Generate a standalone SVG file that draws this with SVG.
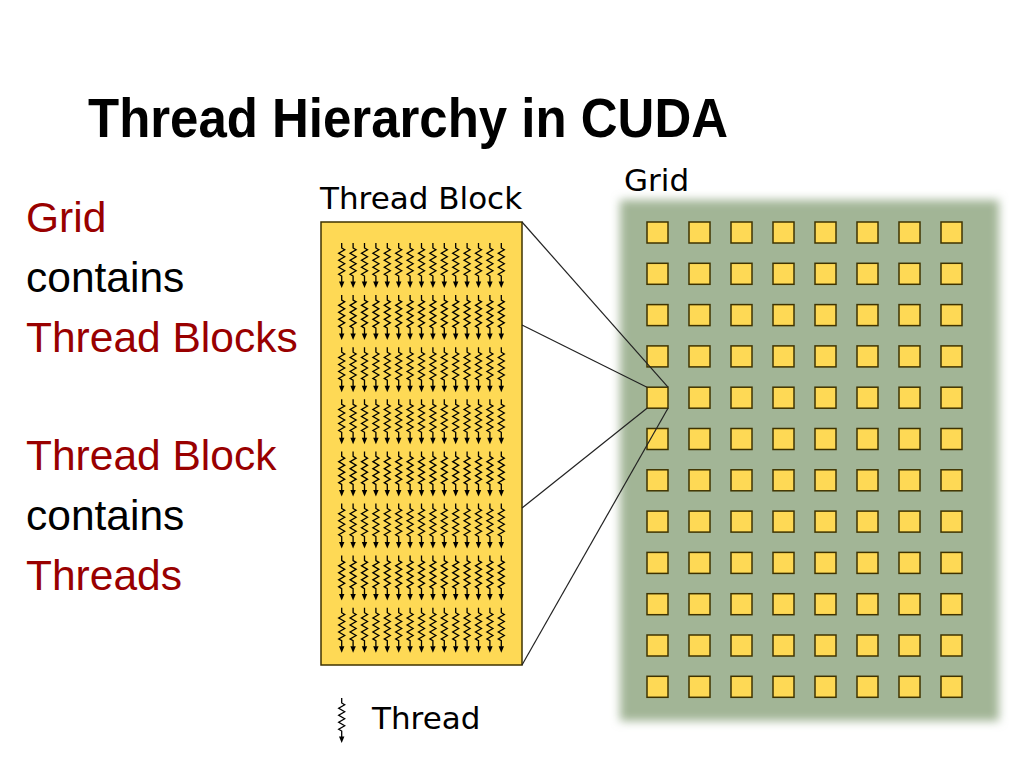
<svg xmlns="http://www.w3.org/2000/svg" xmlns:xlink="http://www.w3.org/1999/xlink" width="1024" height="768" viewBox="0 0 1024 768">
<style>
.title{font-family:"Liberation Sans",Arial,sans-serif;font-weight:bold;font-size:55px;fill:#000}
.side{font-family:"Liberation Sans",Arial,sans-serif;font-size:42.5px}
.red{fill:#990000}
.blk{fill:#000}
.lbl{font-family:"DejaVu Sans",sans-serif;font-size:31px;fill:#000}
.thr{fill:none;stroke:#000;stroke-width:1.3}
.cell{fill:#fed955;stroke:#3f3300;stroke-width:1.5}
.conn{stroke:#222;stroke-width:1.2;fill:none}
</style>
<defs>
<filter id="blur" x="-10%" y="-10%" width="120%" height="120%">
<feGaussianBlur stdDeviation="5"/>
</filter>
<g id="th">
<path class="thr" d="M0,0 V5 l3,1.75 l-6,3.5 l6,3.5 l-6,3.5 l6,3.5 l-6,3.5 l6,3.5 l-6,3.5 l3,1.75 V39"/>
<polygon points="0,45 -2.7,38.5 2.7,38.5" fill="#000"/>
</g>
<g id="throw">
<use xlink:href="#th" x="341.7"/><use xlink:href="#th" x="353.1"/><use xlink:href="#th" x="364.5"/>
<use xlink:href="#th" x="375.9"/><use xlink:href="#th" x="387.3"/><use xlink:href="#th" x="398.7"/>
<use xlink:href="#th" x="410.1"/><use xlink:href="#th" x="421.5"/><use xlink:href="#th" x="432.9"/>
<use xlink:href="#th" x="444.3"/><use xlink:href="#th" x="455.7"/><use xlink:href="#th" x="467.1"/>
<use xlink:href="#th" x="478.5"/><use xlink:href="#th" x="489.9"/><use xlink:href="#th" x="501.3"/>
</g>
<g id="gridrow">
<rect class="cell" x="647" width="21" height="21"/><rect class="cell" x="689" width="21" height="21"/>
<rect class="cell" x="731" width="21" height="21"/><rect class="cell" x="773" width="21" height="21"/>
<rect class="cell" x="815" width="21" height="21"/><rect class="cell" x="857" width="21" height="21"/>
<rect class="cell" x="899" width="21" height="21"/><rect class="cell" x="941" width="21" height="21"/>
</g>
</defs>
<rect width="1024" height="768" fill="#fff"/>
<text class="title" x="88" y="137" textLength="640" lengthAdjust="spacingAndGlyphs">Thread Hierarchy in CUDA</text>
<g id="side-text" class="side">
<text class="red" x="26" y="232">Grid</text>
<text class="blk" x="26" y="292">contains</text>
<text class="red" x="26" y="352">Thread Blocks</text>
<text class="red" x="26" y="470">Thread Block</text>
<text class="blk" x="26" y="530">contains</text>
<text class="red" x="26" y="590">Threads</text>
</g>
<g id="grid">
<rect x="620" y="200" width="379" height="521" fill="#a2b596" filter="url(#blur)"/>
<text class="lbl" x="624" y="191">Grid</text>
<use xlink:href="#gridrow" y="222"/><use xlink:href="#gridrow" y="263.3"/><use xlink:href="#gridrow" y="304.6"/>
<use xlink:href="#gridrow" y="345.9"/><use xlink:href="#gridrow" y="387.2"/><use xlink:href="#gridrow" y="428.5"/>
<use xlink:href="#gridrow" y="469.8"/><use xlink:href="#gridrow" y="511.1"/><use xlink:href="#gridrow" y="552.4"/>
<use xlink:href="#gridrow" y="593.7"/><use xlink:href="#gridrow" y="635"/><use xlink:href="#gridrow" y="676.3"/>
</g>
<g id="thread-block">
<text class="lbl" x="320" y="209">Thread Block</text>
<rect x="321" y="222" width="201" height="443" fill="#fed955" stroke="#3f3300" stroke-width="1.5"/>
<use xlink:href="#throw" y="243"/><use xlink:href="#throw" y="295.1"/><use xlink:href="#throw" y="347.2"/>
<use xlink:href="#throw" y="399.3"/><use xlink:href="#throw" y="451.4"/><use xlink:href="#throw" y="503.5"/>
<use xlink:href="#throw" y="555.6"/><use xlink:href="#throw" y="607.7"/>
</g>
<g id="connectors">
<line class="conn" x1="522" y1="222" x2="668" y2="387.2"/>
<line class="conn" x1="522" y1="325" x2="647" y2="387.2"/>
<line class="conn" x1="522" y1="508" x2="647" y2="408.2"/>
<line class="conn" x1="522" y1="665" x2="668" y2="408.2"/>
</g>
<g id="legend">
<use xlink:href="#th" x="341.7" y="698"/>
<text class="lbl" x="372" y="729">Thread</text>
</g>
</svg>
